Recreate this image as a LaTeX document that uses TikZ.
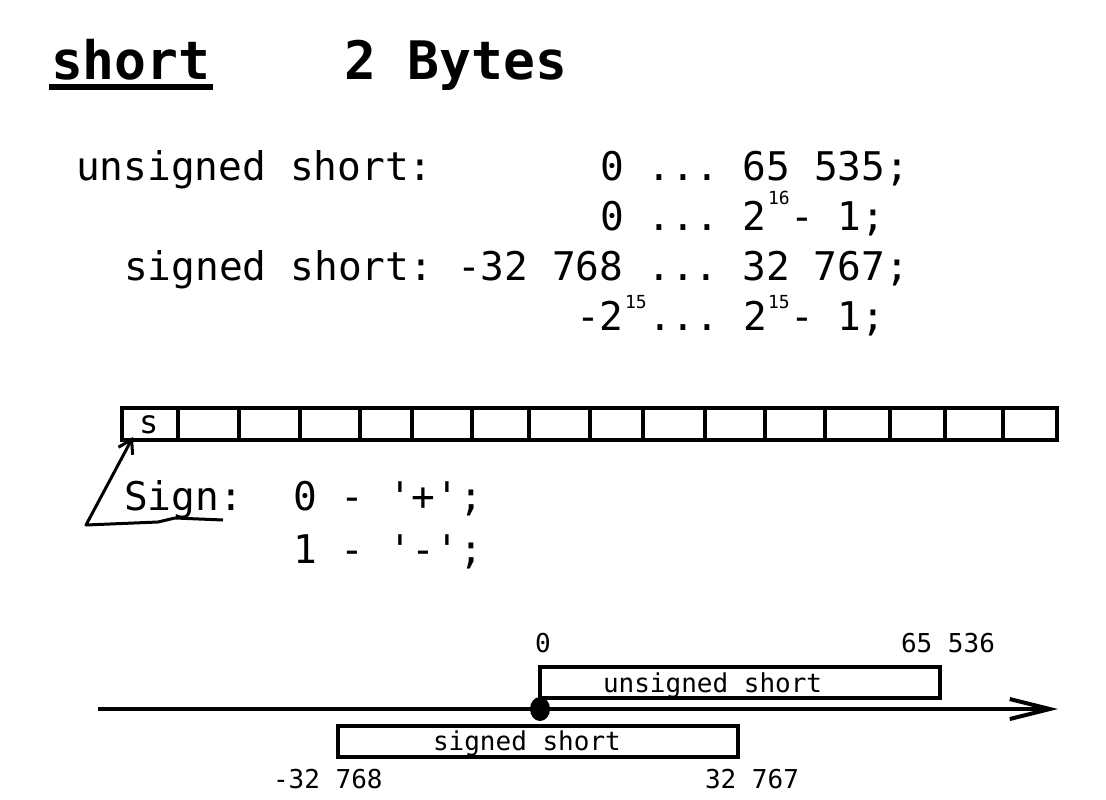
\documentclass[tikz,border=0pt]{standalone}
\usepackage{fontspec}
\setmonofont{DejaVu Sans Mono}
\usetikzlibrary{arrows.meta}
\begin{document}
\begin{tikzpicture}[x=1pt,y=-1pt,line width=4pt,
  every node/.style={inner sep=0pt,anchor=base west},
  head/.style={font=\ttfamily\bfseries\fontsize{53}{54}\selectfont},
  big/.style={font=\ttfamily\fontsize{39.5}{40}\selectfont},
  sup/.style={font=\ttfamily\fontsize{18}{18}\selectfont},
  small/.style={font=\ttfamily\fontsize{26}{26}\selectfont},
  rangebox/.style={draw,line width=4pt,anchor=center,minimum width=400pt,minimum height=31pt}]
\useasboundingbox (0,0) rectangle (1106,800);

% title
\node[head](t1) at (49,79){short};
\node[head](t2) at (342,79){2 Bytes};
\draw[line width=6pt] ([yshift=-8pt]t1.base west) -- ([yshift=-8pt]t1.base east);

% ranges
\node[big](u1) at (74,180){unsigned short:};
\node[big](u2) at (598,180){0 ... 65 535;};
\node[big](u3) at (598,230){0 ... 2};
\node[sup](u4) at (766,204){16};
\node[big](u5) at (788,230){- 1;};
\node[big](s1) at (122,280){signed short:};
\node[big](s2) at (455,280){-32 768 ... 32 767;};
\node[big](s3) at (574,330){-2};
\node[sup](s4) at (623,308){15};
\node[big](s5) at (646,330){... 2};
\node[sup](s6) at (766,308){15};
\node[big](s7) at (788,330){- 1;};

% bits
\draw (122,408) rectangle (1057,440);
\foreach \x in {178,239,300,360,412,472,529,590,643,705,765,825,890,945,1003}
  \draw (\x,408) -- (\x,440);
\node[font=\ttfamily\fontsize{32}{32}\selectfont](s) at (137,433){s};
\coordinate (tip) at (133,437);

% sign
\node[big](g1) at (122,510){Sign:};
\node[big](g2) at (291,510){0 - '+';};
\node[big](g3) at (291,563){1 - '-';};
\draw[line width=3pt,line join=round,-{Straight Barb[length=13pt,width=16pt]}]
  (223,520) -- (175,518) -- (158,522) -- (86,525) -- (tip);

% number line
\coordinate (a) at (98,709);
\coordinate (b) at (1058,709);
\draw[-{Straight Barb[length=40pt,width=20pt]}] (a) -- (b);
\coordinate (z) at (540,709);
\fill (z) ellipse (10 and 12);
\node[rangebox](ub) at (740,682.5){};
\node[rangebox](sb) at (538,741){};
\node[small](ul) at (601,692){unsigned short};
\node[small](sl) at (431,750){signed short};
\node[small](n1) at (533,652){0};
\node[small](n2) at (899,652){65 536};
\node[small](n3) at (271,788){-32 768};
\node[small](n4) at (703,788){32 767};
\end{tikzpicture}
\end{document}
